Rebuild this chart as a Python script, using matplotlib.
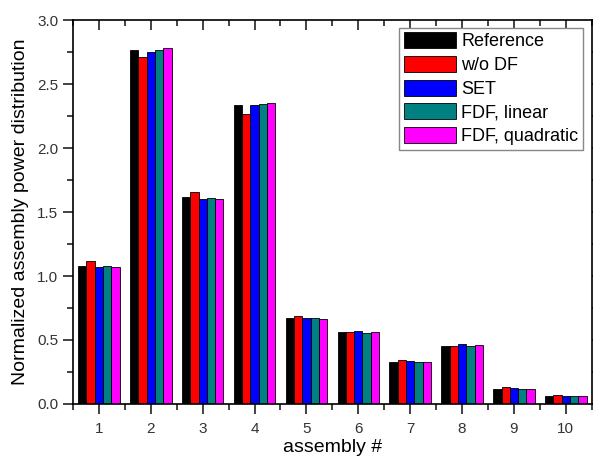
import numpy as np
import matplotlib.pyplot as plt

plt.rcParams['font.family'] = ['Liberation Sans', 'DejaVu Sans']

assemblies = np.arange(1, 11)
ref = [1.08, 2.77, 1.62, 2.34, 0.67, 0.56, 0.33, 0.45, 0.12, 0.065]
wo_df = [1.12, 2.71, 1.66, 2.27, 0.69, 0.56, 0.345, 0.45, 0.13, 0.07]
set_ = [1.07, 2.75, 1.60, 2.34, 0.67, 0.57, 0.335, 0.47, 0.125, 0.062]
fdf_lin = [1.08, 2.77, 1.61, 2.345, 0.67, 0.555, 0.328, 0.453, 0.12, 0.062]
fdf_quad = [1.07, 2.785, 1.60, 2.355, 0.665, 0.565, 0.328, 0.46, 0.12, 0.062]

series = [ref, wo_df, set_, fdf_lin, fdf_quad]
names = ['Reference', 'w/o DF', 'SET', 'FDF, linear', 'FDF, quadratic']
colors = ['#000000', '#ff0000', '#0000ff', '#008080', '#ff00ff']

fig = plt.figure(figsize=(5.93, 4.59), dpi=100)
ax = fig.add_axes([0.123, 0.12, 0.875, 0.836])

w = 0.16
for i, (vals, name, c) in enumerate(zip(series, names, colors)):
    ax.bar(assemblies + (i - 2) * w, vals, width=w, color=c, edgecolor='black',
           linewidth=0.6, label=name)

ax.set_xlim(0.5, 10.5)
ax.set_ylim(0, 3.0)
ax.set_xticks(assemblies)
ax.set_xticks(np.arange(0.5, 10.6, 1), minor=True)
ax.set_yticks(np.arange(0, 3.01, 0.5))
ax.set_yticks(np.arange(0.25, 3.0, 0.5), minor=True)
ax.yaxis.set_major_formatter(plt.FormatStrFormatter('%.1f'))

ax.tick_params(which='both', direction='out', width=1.2, colors='#222222',
               labelcolor='#333333', labelsize=11)
ax.tick_params(which='major', length=7)
ax.tick_params(which='minor', length=4)
ax.tick_params(which='both', top=True, right=True)
ax.tick_params(axis='x', pad=6)
for spine in ax.spines.values():
    spine.set_linewidth(1.2)

# top/right mirror ticks point inward
for line in ax.xaxis.get_ticklines(minor=False)[1::2] + ax.xaxis.get_ticklines(minor=True)[1::2]:
    line.set_marker(3)
for line in ax.yaxis.get_ticklines(minor=False)[1::2] + ax.yaxis.get_ticklines(minor=True)[1::2]:
    line.set_marker(1)

ax.set_xlabel('assembly #', fontsize=14, labelpad=2)
ax.set_ylabel('Normalized assembly power distribution', fontsize=14, labelpad=6)

leg = ax.legend(loc='upper right', bbox_to_anchor=(0.99, 0.99), fontsize=13,
                handlelength=2.9, handleheight=1.0, handletextpad=0.3,
                labelspacing=0.3, borderpad=0.25, fancybox=False,
                framealpha=1, edgecolor='#888888', borderaxespad=0.2)
leg.get_frame().set_linewidth(1.0)

fig.savefig('out.png', dpi=100)
